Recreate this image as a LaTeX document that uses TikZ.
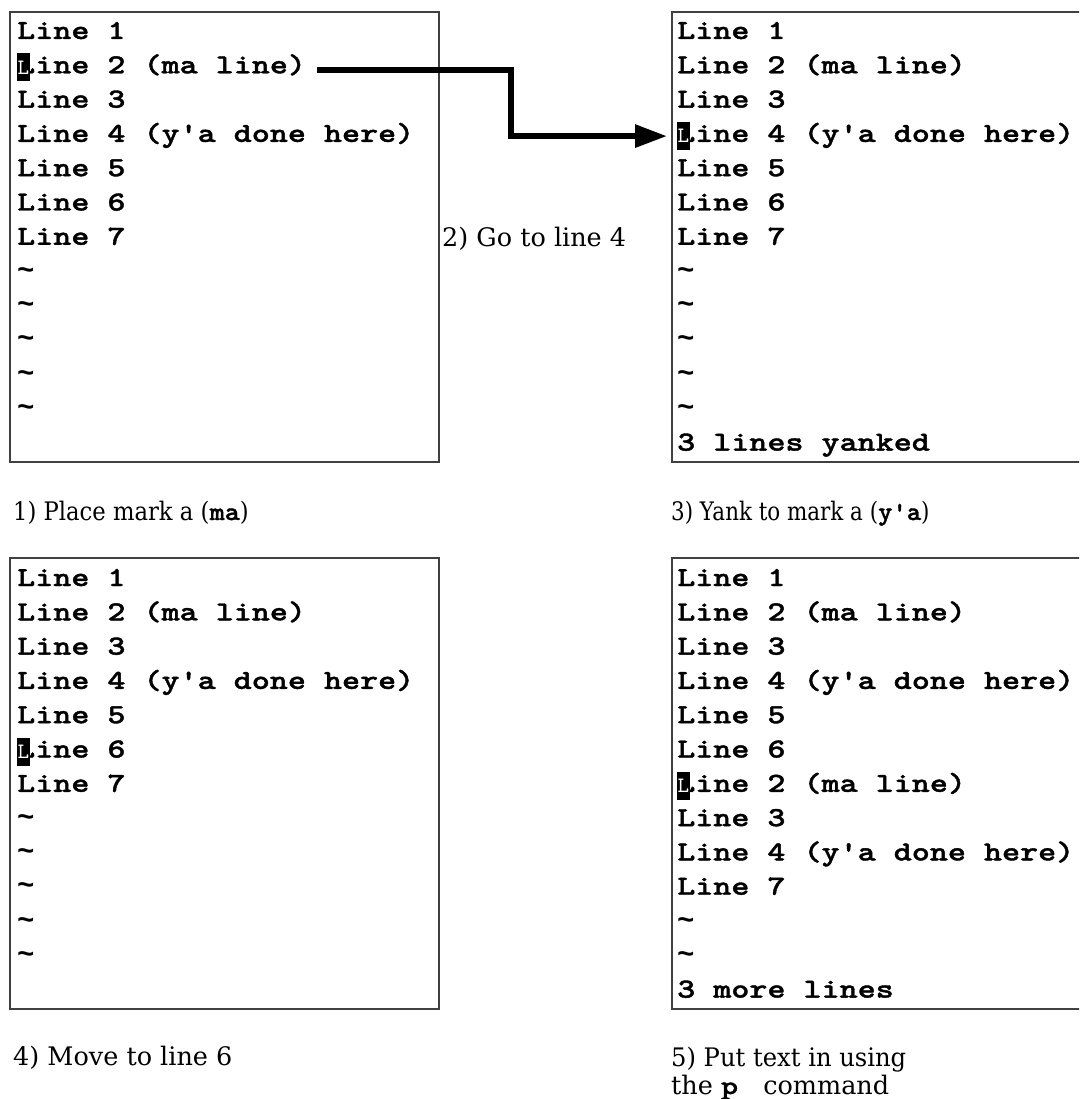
\documentclass[tikz,border=0pt]{standalone}
\usepackage{fontspec}
\setmainfont{DejaVu Serif}
\newfontfamily\vimmono{lmmonolt10-bold.otf}[FakeStretch=1.25,FakeBold=1.4]
\newfontfamily\vimthin{lmmono10-regular.otf}
\newfontfamily\tildefont{Liberation Mono}
\usetikzlibrary{arrows.meta}
\newcommand\vimfont{\vimmono\fontsize{27.5}{34.3}\selectfont}
\newcommand\capfont{\rmfamily\fontsize{25.5}{30}\selectfont}
\newcommand\cmdtxt[1]{{\vimmono\fontsize{26}{28}\selectfont #1}}
\newcommand\vtilde{{\tildefont\bfseries\fontsize{29}{34}\selectfont\textasciitilde}}
\tikzset{
  screen/.style={draw=black!75, line width=1.3pt},
  vimline/.style={anchor=base west, inner sep=0pt, font=\vimfont},
  cursorbox/.style={fill=black, inner sep=0pt, minimum width=13.5pt, minimum height=28pt,
    text=white, anchor=north west, font=\vimthin\fontsize{22}{22}\selectfont},
  caption/.style={anchor=base west, inner sep=0pt, font=\capfont},
  jump/.style={line width=6pt, -{Triangle[length=32pt,width=22pt]}},
}
\begin{document}
\begin{tikzpicture}[x=1pt,y=-1pt]
\clip (0,0) rectangle (1079,1099);
\fill[white] (0,0) rectangle (1079,1099);
% screens
\draw[screen] (10,12) rectangle (439,462);
\draw[screen] (672,12) rectangle (1090,462);
\draw[screen] (10,558) rectangle (439,1009);
\draw[screen] (672,558) rectangle (1090,1009);
% screen 1
\foreach \t [count=\i from 0] in {Line 1,Line 2 (ma line),Line 3,Line 4 (y'a done here),Line 5,Line 6,Line 7,\vtilde,\vtilde,\vtilde,\vtilde,\vtilde}
  \node[vimline] (a\i) at (17,{39+34.3*\i}) {\t};
\node[cursorbox] (curA) at (16.5,{39+34.3*1-20}) {L};
% screen 2
\foreach \t [count=\i from 0] in {Line 1,Line 2 (ma line),Line 3,Line 4 (y'a done here),Line 5,Line 6,Line 7,\vtilde,\vtilde,\vtilde,\vtilde,\vtilde,3 lines yanked}
  \node[vimline] (b\i) at (677,{39+34.3*\i}) {\t};
\node[cursorbox] (curB) at (676.5,{39+34.3*3-20}) {L};
% screen 3
\foreach \t [count=\i from 0] in {Line 1,Line 2 (ma line),Line 3,Line 4 (y'a done here),Line 5,Line 6,Line 7,\vtilde,\vtilde,\vtilde,\vtilde,\vtilde}
  \node[vimline] (c\i) at (17,{586+34.3*\i}) {\t};
\node[cursorbox] (curC) at (16.5,{586+34.3*5-20}) {L};
% screen 4
\foreach \t [count=\i from 0] in {Line 1,Line 2 (ma line),Line 3,Line 4 (y'a done here),Line 5,Line 6,Line 2 (ma line),Line 3,Line 4 (y'a done here),Line 7,\vtilde,\vtilde,3 more lines}
  \node[vimline] (d\i) at (677,{586+34.3*\i}) {\t};
\node[cursorbox] (curD) at (676.5,{586+34.3*6-20}) {L};
% captions
\node[caption] (cap1) at (13,520) {\scalebox{0.89}[1]{1) Place mark a (\cmdtxt{ma})}};
\node[caption] (cap2) at (442,247) {2) Go to line 4};
\node[caption] (cap3) at (671,520) {\scalebox{0.84}[1]{3) Yank to mark a (\cmdtxt{y'a})}};
\node[caption] (cap4) at (13,1065) {4) Move to line 6};
\node[caption] (cap5a) at (671,1066) {\scalebox{0.95}[1]{5) Put text in using}};
\node[caption] (cap5b) at (671,1094) {the \cmdtxt{p } command};
% jump arrow
\coordinate (jumpstart) at ([shift={(11,-3)}]a1.base east);
\coordinate (bend) at (511,0);
\draw[jump] (jumpstart) -- (jumpstart -| bend) |- ([xshift=-9.5pt]curB.west);
\end{tikzpicture}
\end{document}
